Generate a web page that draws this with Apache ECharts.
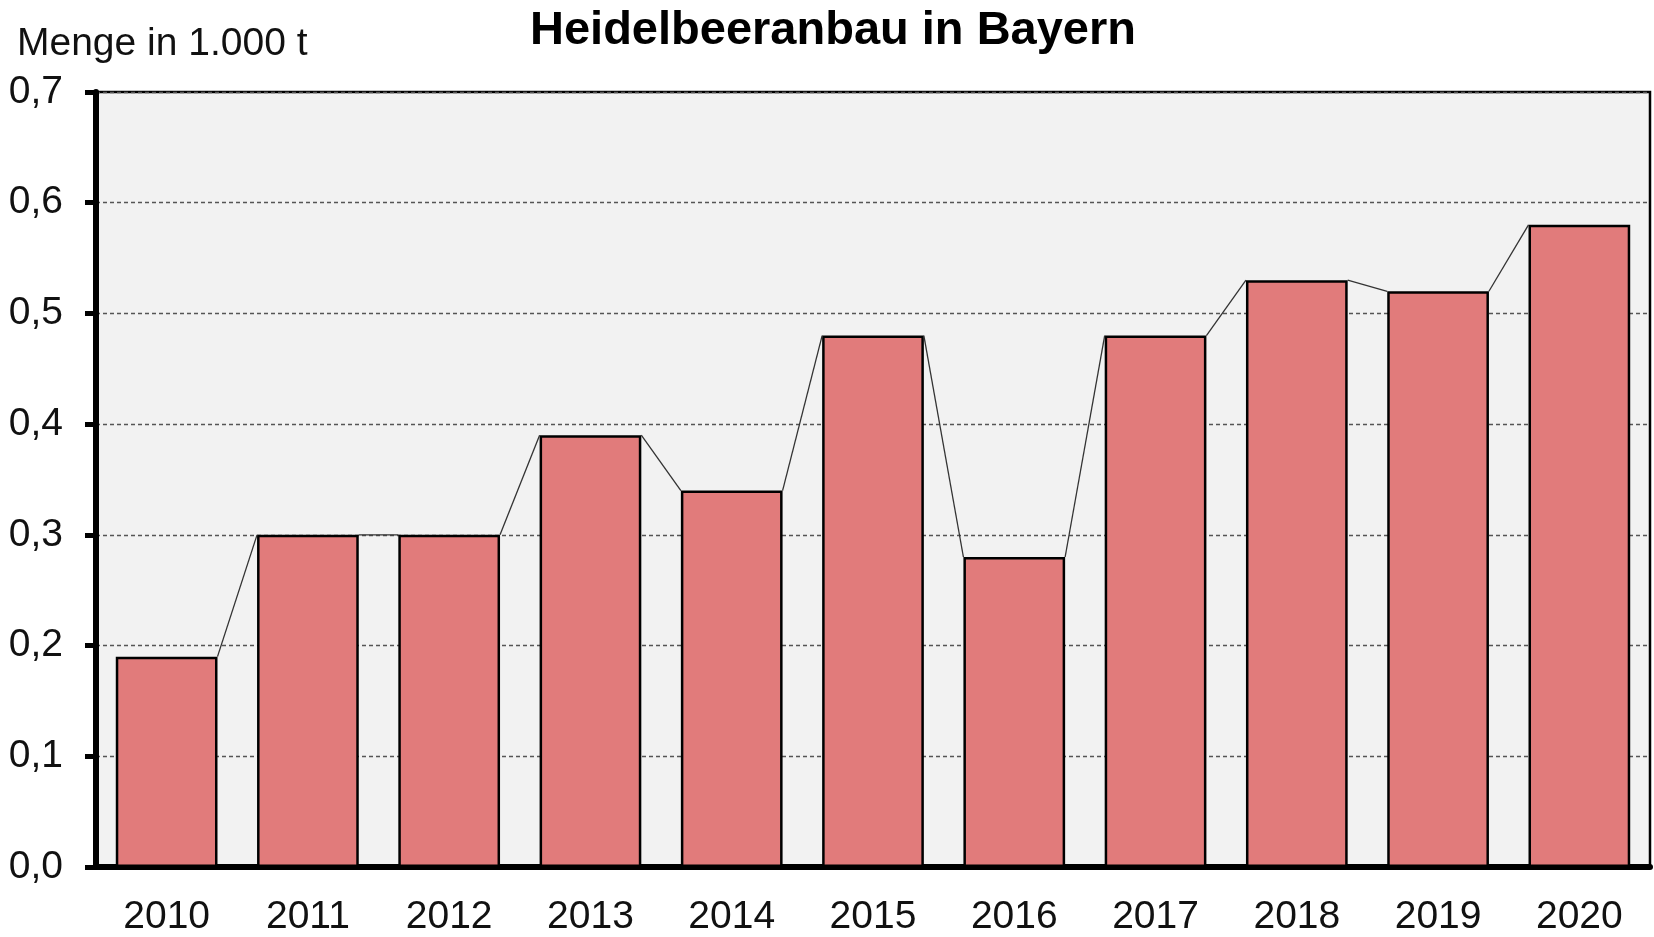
<!DOCTYPE html>
<html>
<head>
<meta charset="utf-8">
<title>Heidelbeeranbau in Bayern</title>
<script src="https://cdn.jsdelivr.net/npm/echarts@6/dist/echarts.min.js"></script>
<style>
  html, body { margin: 0; padding: 0; background: #fff; }
  #chart { width: 1654px; height: 937px; }
</style>
</head>
<body>
<div id="chart"></div>
<script>
// Daten (Menge in 1.000 t)
var years = ["2010", "2011", "2012", "2013", "2014", "2015", "2016", "2017", "2018", "2019", "2020"];
var mengen = [0.19, 0.30, 0.30, 0.39, 0.34, 0.48, 0.28, 0.48, 0.53, 0.52, 0.58];
var yTicks = [0, 0.1, 0.2, 0.3, 0.4, 0.5, 0.6, 0.7];

var barGap = 0.28; // Lücke zwischen den Säulen

// Verbindungslinien von Säulenkante zu Säulenkante
var linien = [];
for (var i = 0; i < mengen.length - 1; i++) {
  linien.push([i, mengen[i], mengen[i + 1]]);
}

var chart = echarts.init(document.getElementById("chart"));

var option = {
  animation: false,
  textStyle: { fontFamily: "Liberation Sans, Arial, sans-serif", color: "#000" },
  title: {
    text: "Heidelbeeranbau in Bayern",
    left: 828,
    textAlign: "center",
    top: 3,
    textStyle: { fontSize: 47, fontWeight: "bold", color: "#000", fontFamily: "Liberation Sans, Arial, sans-serif" }
  },
  graphic: [
    {
      type: "text",
      left: 17,
      top: 25,
      style: { text: "Menge in 1.000 t", fontSize: 39, fill: "#111", fontFamily: "Liberation Sans, Arial, sans-serif" }
    }
  ],
  grid: {
    left: 96,
    right: 4,
    top: 92,
    bottom: 70,
    show: true,
    backgroundColor: "#f2f2f2",
    borderColor: "#000",
    borderWidth: 2.5
  },
  xAxis: {
    type: "category",
    data: years,
    axisLine: { show: true, lineStyle: { color: "#000", width: 6 } },
    axisTick: { show: false },
    axisLabel: { fontSize: 39, color: "#111", margin: 31 }
  },
  yAxis: {
    type: "value",
    min: yTicks[0],
    max: yTicks[yTicks.length - 1],
    interval: 0.1,
    axisLine: { show: true, lineStyle: { color: "#000", width: 6 } },
    axisTick: { show: true, inside: false, length: 11, lineStyle: { color: "#000", width: 5 } },
    axisLabel: {
      fontSize: 39,
      color: "#111",
      margin: 33,
      formatter: function (v) { return v.toFixed(1).replace(".", ","); }
    },
    splitLine: { show: true, lineStyle: { color: "#555", width: 1.3, type: [4, 3] } }
  },
  series: [
    {
      name: "Menge",
      type: "bar",
      data: mengen,
      barCategoryGap: (barGap * 100) + "%",
      itemStyle: { color: "#e17b7b", borderColor: "#000", borderWidth: 2.5 },
      z: 2
    },
    {
      name: "Linien",
      type: "custom",
      data: linien,
      z: 3,
      silent: true,
      renderItem: function (params, api) {
        var idx = api.value(0);
        var a = api.coord([idx, api.value(1)]);
        var b = api.coord([idx + 1, api.value(2)]);
        var half = api.size([1, 0])[0] * (1 - barGap) / 2;
        return {
          type: "line",
          shape: { x1: a[0] + half, y1: a[1], x2: b[0] - half, y2: b[1] },
          style: { stroke: "#333", lineWidth: 1.3 }
        };
      }
    }
  ]
};

chart.setOption(option);
</script>
</body>
</html>
